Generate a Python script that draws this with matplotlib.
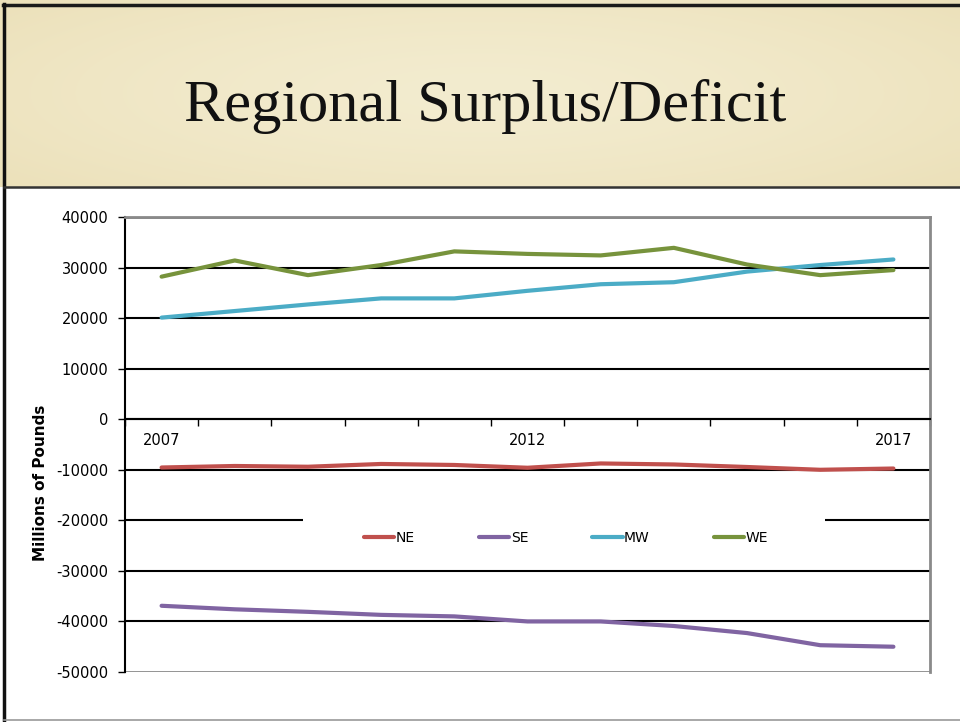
import numpy as np
import matplotlib
matplotlib.use("Agg")
import matplotlib.pyplot as plt
from matplotlib.patches import Rectangle
from matplotlib.lines import Line2D

plt.rcParams['axes.unicode_minus'] = False

years = ['2007', '2008', '2009', '2010', '2011', '2012', '2013', '2014', '2015', '2016', '2017']
ne = [-9550, -9250, -9400, -8850, -9050, -9600, -8750, -8950, -9450, -10000, -9750]
se = [-36900, -37600, -38100, -38700, -39000, -40000, -40000, -40900, -42300, -44700, -45000]
mw = [20100, 21400, 22700, 23900, 23900, 25400, 26700, 27100, 29200, 30500, 31600]
we = [28200, 31400, 28500, 30500, 33200, 32700, 32400, 33900, 30600, 28500, 29500]
series = [('NE', ne, '#C0504D'), ('SE', se, '#8064A2'), ('MW', mw, '#4BACC6'), ('WE', we, '#77933C')]
yticks = [40000, 30000, 20000, 10000, 0, -10000, -20000, -30000, -40000, -50000]
title = 'Regional Surplus/Deficit'
ylabel = 'Millions of Pounds'

W, H = 960, 722
fig = plt.figure(figsize=(W / 100, H / 100), dpi=100)
fig.patch.set_facecolor('white')

# banner background
bax = fig.add_axes([0, 1 - 187 / H, 1, 187 / H])
gy, gx = np.mgrid[0:1:60j, 0:1:120j]
d = np.sqrt(((gx - 0.5) / 0.75) ** 2 + ((gy - 0.5) / 0.9) ** 2)
d = np.clip(d, 0, 1) ** 1.5
c_in = np.array([0.953, 0.925, 0.812])
c_out = np.array([0.918, 0.871, 0.710])
img = c_in[None, None, :] * (1 - d[..., None]) + c_out[None, None, :] * d[..., None]
bax.imshow(img, aspect='auto', extent=[0, 1, 0, 1], interpolation='bicubic')
bax.set_xlim(0, 1)
bax.set_ylim(0, 1)
bax.axis('off')
bax.text(0.505, 0.43, title, ha='center', va='center', fontsize=43.5,
         family='Liberation Serif', color='#111111')

# slide borders
def fx(px):
    return px / W
def fy(py):
    return 1 - py / H
fig.add_artist(Line2D([fx(3), 1], [fy(5), fy(5)], color='#1a1a1a', lw=2.5))
fig.add_artist(Line2D([fx(4), fx(4)], [fy(4), fy(722)], color='#111111', lw=2.5))
fig.add_artist(Line2D([fx(4), 1], [fy(187), fy(187)], color='#333333', lw=1.8))
fig.add_artist(Line2D([fx(4), 1], [fy(720), fy(720)], color='#999999', lw=1.2))

# chart
ax = fig.add_axes([125 / W, 1 - 672 / H, (930 - 125) / W, (672 - 217) / H])
x = np.arange(len(years))
for name, vals, col in series:
    ax.plot(x, vals, color=col, lw=3, label=name, zorder=4, solid_capstyle='round')

ax.set_xlim(-0.5, len(years) - 0.5)
ax.set_ylim(-50000, 40000)
ax.set_yticks(yticks)
ax.set_yticklabels([str(v) for v in yticks], fontsize=10.5, family='DejaVu Sans')
ax.tick_params(axis='y', direction='out', length=5, width=1, color='black', pad=7)

ax.spines['bottom'].set_position(('data', 0))
ax.spines['bottom'].set_color('black')
ax.spines['bottom'].set_linewidth(1.5)
ax.spines['left'].set_color('black')
ax.spines['left'].set_linewidth(1.5)
for s in ['top', 'right']:
    ax.spines[s].set_color('#8a8a8a')
    ax.spines[s].set_linewidth(2)

ax.set_xticks(np.arange(-0.5, len(years), 1.0))
ax.set_xticklabels([])
ax.tick_params(axis='x', which='major', direction='out', length=5, width=1, color='black')
ax.set_xticks([0, 5, 10], minor=True)
ax.set_xticklabels([years[0], years[5], years[10]], minor=True, fontsize=10.5)
ax.tick_params(axis='x', which='minor', length=0, pad=10)

ax.grid(axis='y', color='black', lw=1.5, zorder=1)
ax.grid(axis='x', visible=False)
ax.set_axisbelow(True)
gl = ax.get_ygridlines()
gl[0].set_color('#8a8a8a'); gl[0].set_linewidth(2)
gl[-1].set_color('#8a8a8a'); gl[-1].set_linewidth(2)

ax.set_ylabel(ylabel, fontsize=11, fontweight='bold')
ax.yaxis.set_label_coords((48 - 125) / 805, (672 - 483) / 455)

# legend background block
ax.add_patch(Rectangle(((303 - 125) / 805, (672 - 560) / 455), (825 - 303) / 805, (560 - 517) / 455,
                       transform=ax.transAxes, facecolor='white', edgecolor='none', zorder=2))
leg = ax.legend(loc='center', bbox_to_anchor=((566 - 125) / 805, (672 - 538) / 455), ncol=4,
                frameon=False, fontsize=10, handlelength=2.2, handletextpad=0.1,
                columnspacing=4.6)
for h in leg.get_lines():
    h.set_linewidth(3)

fig.savefig('out.png', dpi=100, facecolor='white')
